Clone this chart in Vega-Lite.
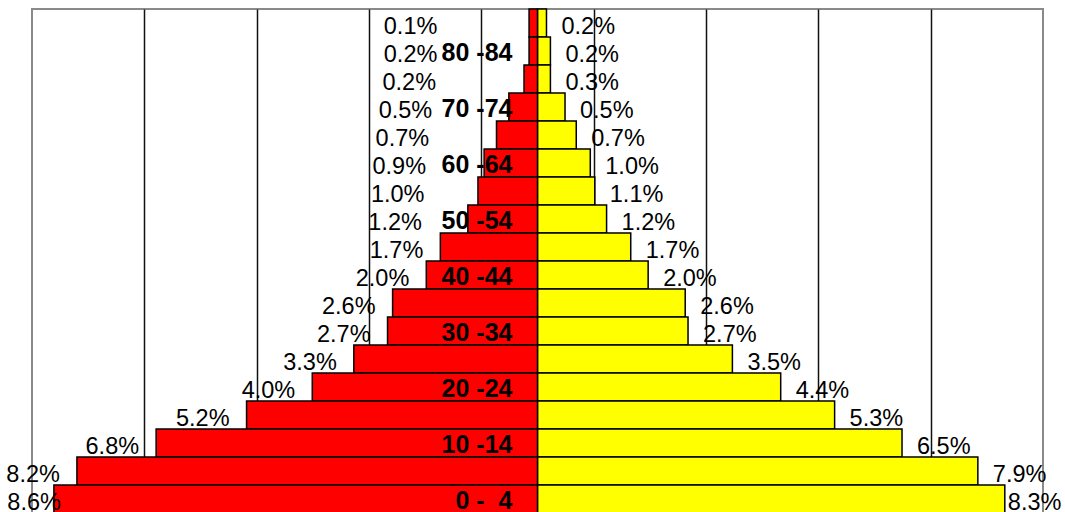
{
  "$schema": "https://vega.github.io/schema/vega-lite/v6.json",
  "width": 1011,
  "height": 504,
  "autosize": {"type": "none"},
  "padding": {"left": 32, "top": 9, "right": 22, "bottom": 0},
  "background": "white",
  "config": {"view": {"stroke": "#8a8a8a", "strokeWidth": 2}, "font": "Liberation Sans"},
  "datasets": {
    "bars": [
      {"age": "85+", "sex": "M", "pct": 0.15, "label": "0.1%"},
      {"age": "80-84", "sex": "M", "pct": 0.15, "label": "0.2%"},
      {"age": "75-79", "sex": "M", "pct": 0.24, "label": "0.2%"},
      {"age": "70-74", "sex": "M", "pct": 0.51, "label": "0.5%"},
      {"age": "65-69", "sex": "M", "pct": 0.73, "label": "0.7%"},
      {"age": "60-64", "sex": "M", "pct": 0.95, "label": "0.9%"},
      {"age": "55-59", "sex": "M", "pct": 1.06, "label": "1.0%"},
      {"age": "50-54", "sex": "M", "pct": 1.24, "label": "1.2%"},
      {"age": "45-49", "sex": "M", "pct": 1.73, "label": "1.7%"},
      {"age": "40-44", "sex": "M", "pct": 1.98, "label": "2.0%"},
      {"age": "35-39", "sex": "M", "pct": 2.58, "label": "2.6%"},
      {"age": "30-34", "sex": "M", "pct": 2.67, "label": "2.7%"},
      {"age": "25-29", "sex": "M", "pct": 3.27, "label": "3.3%"},
      {"age": "20-24", "sex": "M", "pct": 4.01, "label": "4.0%"},
      {"age": "15-19", "sex": "M", "pct": 5.18, "label": "5.2%"},
      {"age": "10-14", "sex": "M", "pct": 6.79, "label": "6.8%"},
      {"age": "5-9", "sex": "M", "pct": 8.2, "label": "8.2%"},
      {"age": "0-4", "sex": "M", "pct": 8.61, "label": "8.6%"},
      {"age": "85+", "sex": "F", "pct": 0.16, "label": "0.2%"},
      {"age": "80-84", "sex": "F", "pct": 0.23, "label": "0.2%"},
      {"age": "75-79", "sex": "F", "pct": 0.23, "label": "0.3%"},
      {"age": "70-74", "sex": "F", "pct": 0.49, "label": "0.5%"},
      {"age": "65-69", "sex": "F", "pct": 0.69, "label": "0.7%"},
      {"age": "60-64", "sex": "F", "pct": 0.94, "label": "1.0%"},
      {"age": "55-59", "sex": "F", "pct": 1.02, "label": "1.1%"},
      {"age": "50-54", "sex": "F", "pct": 1.23, "label": "1.2%"},
      {"age": "45-49", "sex": "F", "pct": 1.66, "label": "1.7%"},
      {"age": "40-44", "sex": "F", "pct": 1.97, "label": "2.0%"},
      {"age": "35-39", "sex": "F", "pct": 2.63, "label": "2.6%"},
      {"age": "30-34", "sex": "F", "pct": 2.68, "label": "2.7%"},
      {"age": "25-29", "sex": "F", "pct": 3.47, "label": "3.5%"},
      {"age": "20-24", "sex": "F", "pct": 4.33, "label": "4.4%"},
      {"age": "15-19", "sex": "F", "pct": 5.29, "label": "5.3%"},
      {"age": "10-14", "sex": "F", "pct": 6.49, "label": "6.5%"},
      {"age": "5-9", "sex": "F", "pct": 7.84, "label": "7.9%"},
      {"age": "0-4", "sex": "F", "pct": 8.32, "label": "8.3%"}
    ],
    "ages": [
      {"age": "80-84", "name": "80 -84"},
      {"age": "70-74", "name": "70 -74"},
      {"age": "60-64", "name": "60 -64"},
      {"age": "50-54", "name": "50 -54"},
      {"age": "40-44", "name": "40 -44"},
      {"age": "30-34", "name": "30 -34"},
      {"age": "20-24", "name": "20 -24"},
      {"age": "10-14", "name": "10 -14"},
      {"age": "0-4", "name": "0 -\u00a0\u00a04"}
    ]
  },
  "encoding": {
    "y": {
      "field": "age",
      "type": "nominal",
      "scale": {
        "domain": ["85+", "80-84", "75-79", "70-74", "65-69", "60-64", "55-59", "50-54", "45-49", "40-44", "35-39", "30-34", "25-29", "20-24", "15-19", "10-14", "5-9", "0-4"],
        "paddingInner": 0,
        "paddingOuter": 0
      },
      "axis": null
    }
  },
  "layer": [
    {
      "data": {"name": "bars"},
      "transform": [{"filter": "datum.sex === 'F'"}],
      "encoding": {
        "x": {
          "field": "pct",
          "type": "quantitative",
          "scale": {"domain": [-9, 9], "nice": false},
          "axis": {
            "values": [-7, -5, -3, -1, 1, 3, 5, 7],
            "grid": true,
            "gridColor": "#111111",
            "gridWidth": 1.5,
            "gridOpacity": 1,
            "labels": false,
            "ticks": false,
            "domain": false,
            "title": null
          }
        }
      },
      "layer": [
        {"mark": {"type": "bar", "color": "#ffff00", "stroke": "#000000", "strokeWidth": 1.5}},
        {
          "mark": {"type": "text", "align": "left", "baseline": "middle", "fontSize": 23.5, "color": "#000000", "dy": 3.5, "dx": {"expr": "datum.pct > 8.1 ? 3 : 15"}},
          "encoding": {"text": {"field": "label"}}
        }
      ]
    },
    {
      "data": {"name": "bars"},
      "transform": [{"filter": "datum.sex === 'M'"}],
      "encoding": {
        "x": {
          "field": "pct",
          "type": "quantitative",
          "scale": {"domain": [-9, 9], "nice": false, "reverse": true},
          "axis": null
        }
      },
      "layer": [
        {"mark": {"type": "bar", "color": "#ff0000", "stroke": "#000000", "strokeWidth": 1.5}},
        {
          "mark": {"type": "text", "align": "right", "baseline": "middle", "fontSize": 23.5, "color": "#000000", "dy": 3.5, "dx": {"expr": "datum.pct < 1.6 ? -98 + 42 * datum.pct : (datum.pct > 8.4 ? 7 : -17)"}},
          "encoding": {"text": {"field": "label"}}
        }
      ]
    },
    {
      "data": {"name": "ages"},
      "mark": {"type": "text", "align": "right", "baseline": "middle", "fontSize": 25, "fontWeight": "bold", "color": "#000000", "dx": -25, "dy": 2},
      "encoding": {
        "x": {"datum": 0, "type": "quantitative", "scale": {"domain": [-9, 9], "nice": false}, "axis": null},
        "text": {"field": "name"}
      }
    }
  ],
  "resolve": {"scale": {"x": "independent"}, "axis": {"x": "independent"}}
}
